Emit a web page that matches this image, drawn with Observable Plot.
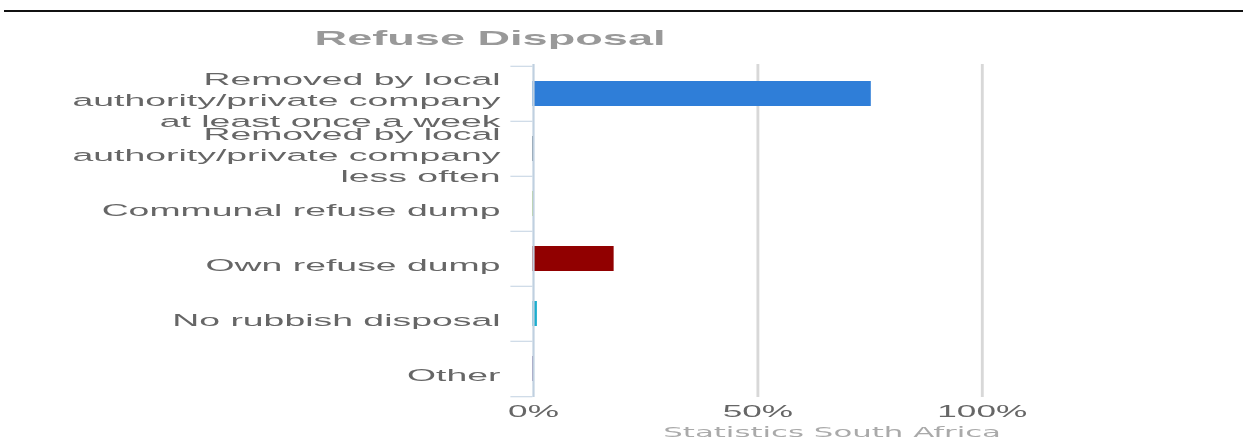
<!DOCTYPE html>
<html><head><meta charset="utf-8">
<script src="https://cdn.jsdelivr.net/npm/d3@7"></script>
<script src="https://cdn.jsdelivr.net/npm/@observablehq/plot@0.6"></script>
<style>
html,body{margin:0;padding:0;background:#fff;width:1243px;height:443px;overflow:hidden;}
#rule{position:absolute;left:4px;right:0;top:10px;height:2px;background:#111;}
#fig{position:absolute;left:0;top:0;width:565px;height:443px;transform:scaleX(2.2);transform-origin:0 0;}
#title{position:absolute;left:143px;top:26px;font:bold 20.5px 'Liberation Sans',Arial,sans-serif;color:#999;white-space:nowrap;line-height:24px;}
#chart{position:absolute;left:0;top:50px;}
#caption{position:absolute;right:110px;top:424px;font:14px 'DejaVu Sans',sans-serif;color:#aaa;white-space:nowrap;line-height:16px;}
</style>
</head>
<body>
<div id="rule"></div>
<div id="fig">
  <div id="title">Refuse Disposal</div>
  <div id="chart"></div>
  <div id="caption">Statistics South Africa</div>
</div>
<script>
const categories = [
  "Removed by local authority/private company at least once a week",
  "Removed by local authority/private company less often",
  "Communal refuse dump",
  "Own refuse dump",
  "No rubbish disposal",
  "Other"
];
const tickLabels = [
  "Removed by local\nauthority/private company\nat least once a week",
  "Removed by local\nauthority/private company\nless often",
  "Communal refuse dump",
  "Own refuse dump",
  "No rubbish disposal",
  "Other"
];
const percentages = [75.4, 0.3, 0.3, 18.1, 1.0, 0.3];
const seriesColors = ["#2f7ed8", "#0d233a", "#8bbc21", "#910000", "#1aadce", "#492970"];
const xTicks = [0, 50, 100];
const gridValues = [50, 100];

const data = categories.map((c, i) => ({category: c, value: percentages[i]}));
const labelMap = new Map(categories.map((c, i) => [c, tickLabels[i]]));

const W = 565, H = 380, mt = 14, mb = 33, ml = 242, mr = 119;
const step = (H - mt - mb) / categories.length;

const chart = Plot.plot({
  width: W, height: H,
  marginTop: mt, marginBottom: mb, marginLeft: ml, marginRight: mr,
  style: {fontFamily: "'Liberation Sans', Arial, sans-serif", color: "#666", background: "white", overflow: "visible"},
  x: {domain: [0, 100], label: null},
  y: {domain: categories, padding: 0, label: null},
  color: {domain: categories, range: seriesColors},
  marks: [
    Plot.gridX(gridValues, {stroke: "#d8d8d8", strokeOpacity: 1, strokeWidth: 1.3}),
    Plot.barX(data, {y: "category", x: "value", fill: "category", insetTop: 15, insetBottom: 15}),
    Plot.ruleX([0], {stroke: "#C0D0E0", strokeWidth: 1}),
    Plot.axisY({tickSize: 0, tickPadding: 15, fontSize: 17, lineHeight: 1.24, dy: 5, tickFormat: d => labelMap.get(d)}),
    Plot.axisY({tickSize: 10, tickFormat: () => "", stroke: "#C0D0E0", dy: -step / 2}),
    Plot.axisY([categories[categories.length - 1]], {tickSize: 10, tickFormat: () => "", stroke: "#C0D0E0", dy: step / 2}),
    Plot.axisX(xTicks, {tickSize: 0, tickPadding: 8, fontSize: 16, tickFormat: d => d + "%"})
  ]
});
document.getElementById("chart").appendChild(chart);
</script>
</body></html>
